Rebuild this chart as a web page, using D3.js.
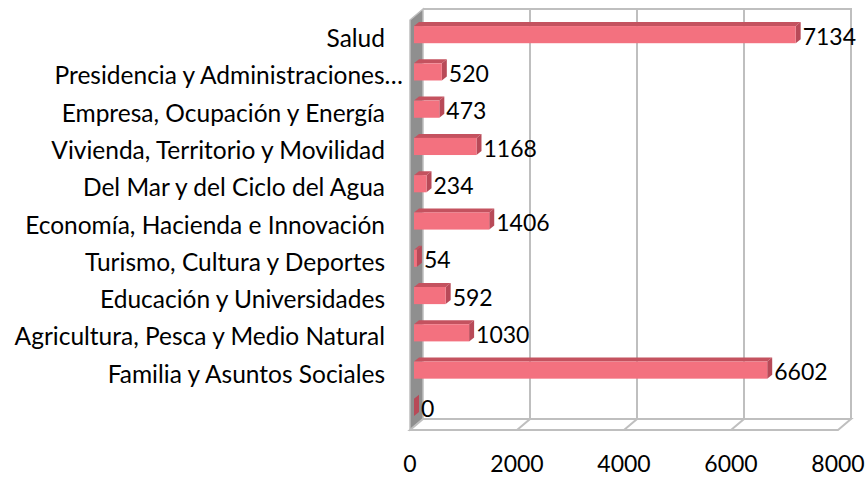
<!DOCTYPE html>
<html>
<head>
<meta charset="utf-8">
<script src="https://cdn.jsdelivr.net/npm/d3@7"></script>
<style>
  body { margin: 0; background: #fff; }
  text { font-family: Lato, "Open Sans", sans-serif; fill: #000; }
</style>
</head>
<body>
<div id="chart"></div>
<script>
// data, top to bottom
var categories = [
  "Salud",
  "Presidencia y Administraciones…",
  "Empresa, Ocupación y Energía",
  "Vivienda, Territorio y Movilidad",
  "Del Mar y del Ciclo del Agua",
  "Economía, Hacienda e Innovación",
  "Turismo, Cultura y Deportes",
  "Educación y Universidades",
  "Agricultura, Pesca y Medio Natural",
  "Familia y Asuntos Sociales",
  ""
];
var values = [7134, 520, 473, 1168, 234, 1406, 54, 592, 1030, 6602, 0];
var xTicks = [0, 2000, 4000, 6000, 8000];

var W = 867, H = 477;
// front plane of the 3d box
var front = {left: 410, right: 838, top: 20, bottom: 430};
var depth = {dx: 13, dy: -11};       // wall depth
var barOff = {dx: 4, dy: -4};        // bar front face offset from front plane
var barDepth = {dx: 5, dy: -4};      // bar thickness in depth

var data = categories.map(function(c, i) { return {cat: c, value: values[i], i: i}; });

var svg = d3.select('#chart').append('svg')
  .attr('width', W)
  .attr('height', H);

var x = d3.scaleLinear()
  .domain([0, 8000])
  .range([front.left, front.right]);

var y = d3.scaleBand()
  .domain(data.map(function(d) { return d.i; }))
  .range([front.top, front.bottom])
  .paddingInner(0.54)
  .paddingOuter(0.27);

function pts(arr) {
  return arr.map(function(p) { return p[0] + ',' + p[1]; }).join(' ');
}

var grid = '#bfbfbf';

// left side wall
svg.append('polygon')
  .attr('points', pts([
    [front.left, front.top],
    [front.left + depth.dx, front.top + depth.dy],
    [front.left + depth.dx, front.bottom + depth.dy],
    [front.left, front.bottom]
  ]))
  .attr('fill', '#8f8f8f')
  .attr('stroke', grid)
  .attr('stroke-width', 1.5);

// floor
svg.append('polygon')
  .attr('points', pts([
    [front.left, front.bottom],
    [front.left + depth.dx, front.bottom + depth.dy],
    [front.right + depth.dx, front.bottom + depth.dy],
    [front.right, front.bottom]
  ]))
  .attr('fill', '#fff')
  .attr('stroke', grid)
  .attr('stroke-width', 2);

// back wall outline
svg.append('path')
  .attr('d', 'M' + (front.left + depth.dx) + ',' + (front.top + depth.dy) +
             'H' + (front.right + depth.dx) +
             'V' + (front.bottom + depth.dy))
  .attr('fill', 'none')
  .attr('stroke', grid)
  .attr('stroke-width', 2);

// gridlines: back wall + floor diagonal
svg.selectAll('.grid')
  .data(xTicks.slice(1, -1))
  .enter()
  .append('path')
  .attr('class', 'grid')
  .attr('d', function(t) {
    return 'M' + (x(t) + depth.dx) + ',' + (front.top + depth.dy) +
           'V' + (front.bottom + depth.dy) +
           'L' + x(t) + ',' + front.bottom;
  })
  .attr('fill', 'none')
  .attr('stroke', grid)
  .attr('stroke-width', 2);

// bars
var bars = svg.selectAll('.bar')
  .data(data)
  .enter()
  .append('g')
  .attr('class', 'bar');

function barGeom(d) {
  var x0 = x(0) + barOff.dx, x1 = x(d.value) + barOff.dx;
  var y0 = y(d.i) + barOff.dy, y1 = y0 + y.bandwidth();
  return {x0: x0, x1: x1, y0: y0, y1: y1};
}

// top face
bars.append('polygon')
  .attr('points', function(d) {
    var g = barGeom(d);
    return pts([[g.x0, g.y0], [g.x0 + barDepth.dx, g.y0 + barDepth.dy],
                [g.x1 + barDepth.dx, g.y0 + barDepth.dy], [g.x1, g.y0]]);
  })
  .attr('fill', '#c4525f');

// right face
bars.append('polygon')
  .attr('points', function(d) {
    var g = barGeom(d);
    return pts([[g.x1, g.y0], [g.x1 + barDepth.dx, g.y0 + barDepth.dy],
                [g.x1 + barDepth.dx, g.y1 + barDepth.dy], [g.x1, g.y1]]);
  })
  .attr('fill', '#b84a58');

// front face
bars.append('rect')
  .attr('x', function(d) { return barGeom(d).x0; })
  .attr('y', function(d) { return barGeom(d).y0; })
  .attr('width', function(d) { return x(d.value) - x(0); })
  .attr('height', y.bandwidth())
  .attr('fill', '#f3717f');

// value labels
svg.selectAll('.val')
  .data(data)
  .enter()
  .append('text')
  .attr('class', 'val')
  .attr('x', function(d) { return barGeom(d).x1 + barDepth.dx + 2; })
  .attr('y', function(d) { return barGeom(d).y0 + y.bandwidth() / 2 + 2; })
  .attr('dy', '0.35em')
  .attr('font-size', 23)
  .text(function(d) { return d.value; });

// category labels
svg.selectAll('.cat')
  .data(data)
  .enter()
  .append('text')
  .attr('class', 'cat')
  .attr('x', function(d) { return /…$/.test(d.cat) ? 403 : 385; })
  .attr('y', function(d) { return y(d.i) + y.bandwidth() / 2; })
  .attr('dy', '0.35em')
  .attr('text-anchor', 'end')
  .attr('font-size', 24.5)
  .text(function(d) { return d.cat; });

// x axis tick labels
svg.selectAll('.tick-label')
  .data(xTicks)
  .enter()
  .append('text')
  .attr('class', 'tick-label')
  .attr('x', function(t) { return x(t); })
  .attr('y', 464)
  .attr('dy', '0.35em')
  .attr('text-anchor', 'middle')
  .attr('font-size', 23)
  .text(function(t) { return t; });
</script>
</body>
</html>
